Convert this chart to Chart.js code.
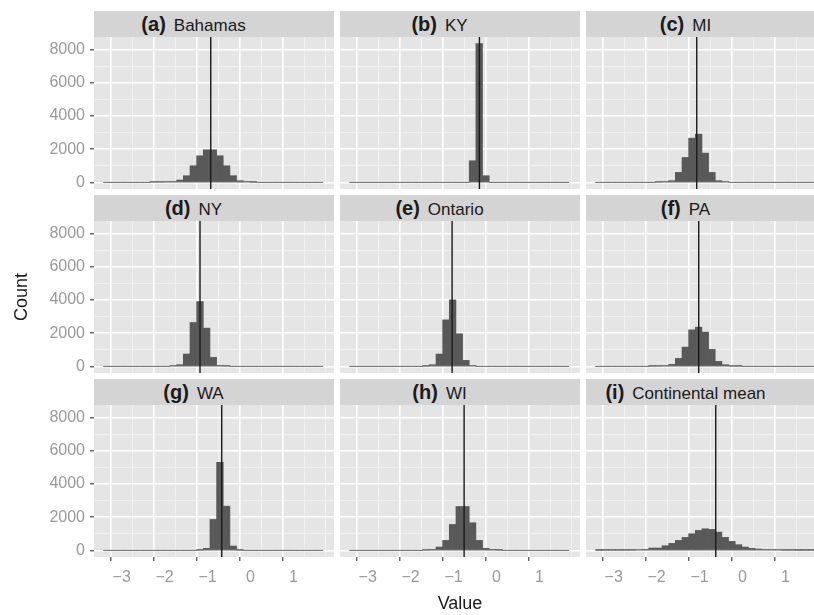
<!DOCTYPE html>
<html>
<head>
<meta charset="utf-8">
<script src="https://cdn.jsdelivr.net/npm/chart.js@4.4.1/dist/chart.umd.min.js"></script>
<style>
  html, body { margin: 0; padding: 0; background: #fff; overflow: hidden; }
  #fig { position: relative; width: 814px; height: 615px; overflow: hidden;
         font-family: "Liberation Sans", Arial, Helvetica, sans-serif; }
  .strip { position: absolute; height: 26px; line-height: 26px; background: #d4d4d4;
           color: #1a1a1a; font-size: 17px; text-align: center; white-space: nowrap;
           box-sizing: border-box; padding-right: 41px; }
  .strip b { font-size: 20px; margin-right: 8px; }
  .cell { position: absolute; }
</style>
</head>
<body>
<div id="fig"></div>
<script>
// 3x3 facet of histograms, ggplot look. same bins (~0.155 wide) in every panel

const binMids = [
  -3.346, -3.191, -3.036, -2.881, -2.726, -2.571, -2.416, -2.261, -2.106, -1.951, -1.796,
  -1.641, -1.486, -1.331, -1.176, -1.021, -0.866, -0.711, -0.556, -0.401, -0.246, -0.091,
  0.064, 0.219, 0.374, 0.529, 0.684, 0.839, 0.994, 1.149, 1.304, 1.459, 1.614,
];
const binLo = -3.423;
const binHi = 1.692;

const panelTags = ['(a)', '(b)', '(c)', '(d)', '(e)', '(f)', '(g)', '(h)', '(i)'];
const panelNames = ['Bahamas', 'KY', 'MI', 'NY', 'Ontario', 'PA', 'WA', 'WI', 'Continental mean'];
const meanLines = [-0.925, -0.396, -1.065, -1.175, -1.033, -1.019, -0.669, -0.753, -0.622];

const countsBahamas = [0, 0, 0, 0, 0, 0, 0, 30, 30, 40, 40, 140, 400, 1000, 1600, 1960, 1960, 1600, 1000, 400, 100, 40, 20, 0, 0, 0, 0, 0, 0, 0, 0, 0, 0];
const countsKY = [0, 0, 0, 0, 0, 0, 0, 0, 0, 0, 0, 0, 0, 0, 0, 0, 0, 0, 1300, 8360, 400, 0, 0, 0, 0, 0, 0, 0, 0, 0, 0, 0, 0];
const countsMI = [0, 0, 0, 0, 0, 0, 0, 0, 0, 30, 40, 100, 600, 1500, 2660, 2900, 1760, 600, 100, 50, 0, 0, 0, 0, 0, 0, 0, 0, 0, 0, 0, 0, 0];
const countsNY = [0, 0, 0, 0, 0, 0, 0, 0, 0, 0, 40, 100, 740, 2640, 3900, 2300, 540, 60, 30, 0, 0, 0, 0, 0, 0, 0, 0, 0, 0, 0, 0, 0, 0];
const countsOntario = [0, 0, 0, 0, 0, 0, 0, 0, 0, 0, 0, 20, 100, 740, 2800, 4000, 1960, 360, 40, 0, 0, 0, 0, 0, 0, 0, 0, 0, 0, 0, 0, 0, 0];
const countsPA = [0, 0, 0, 0, 0, 0, 0, 0, 20, 30, 40, 120, 480, 1160, 2200, 2360, 2060, 1020, 300, 100, 30, 20, 0, 0, 0, 0, 0, 0, 0, 0, 0, 0, 0];
const countsWA = [0, 0, 0, 0, 0, 0, 0, 0, 0, 0, 0, 0, 0, 0, 20, 120, 1860, 5300, 2660, 260, 20, 0, 0, 0, 0, 0, 0, 0, 0, 0, 0, 0, 0];
const countsWI = [0, 0, 0, 0, 0, 0, 0, 0, 0, 0, 0, 30, 60, 200, 600, 1560, 2640, 2640, 1660, 600, 120, 60, 20, 0, 0, 0, 0, 0, 0, 0, 0, 0, 0];
const countsContinental = [10, 15, 20, 20, 20, 25, 50, 60, 140, 140, 280, 420, 600, 780, 1000, 1200, 1300, 1260, 1100, 780, 540, 340, 200, 120, 80, 40, 40, 40, 20, 20, 10, 10, 10];

const panelCounts = [countsBahamas, countsKY, countsMI, countsNY, countsOntario, countsPA, countsWA, countsWI, countsContinental];

// major breaks get labels, minor ones only a thin grid line
const xTicks = [-3, -2, -1, 0, 1];
const xMinor = [-3.5, -2.5, -1.5, -0.5, 0.5, 1.5];
const yTicks = [0, 2000, 4000, 6000, 8000];
const yMinor = [1000, 3000, 5000, 7000];
const xRange = [-3.646, 1.948];
const yRange = [-400, 8750];

// layout (px) -- panels are 240x152, strips 26 high, gaps 6
const plotLeft = [94, 340, 586];
const stripTop = [11, 195, 379];
const PW = 240, PH = 152, SH = 26;
const AXIS_W = 94, AXIS_H = 58;

const FONT = "'Liberation Sans', Arial, Helvetica, sans-serif";
const fig = document.getElementById('fig');

const panelBg = {
  id: 'panelBg',
  beforeDraw(chart) {
    const { ctx, chartArea: a } = chart;
    ctx.save();
    ctx.fillStyle = '#e5e5e5';
    ctx.fillRect(a.left, a.top, a.right - a.left, a.bottom - a.top);
    ctx.restore();
  },
};

function fmtTick(v) {
  return v < 0 ? '\u2212' + Math.abs(v) : String(v);
}

// grid context has no tick when resolved for the scale itself
const isMajor = (list) => (c) => !!c.tick && list.includes(c.tick.value);

// fixed break list (stepSize snaps to min/max in v4, so set them by hand)
const setTicks = (major, minor) => (s) => {
  s.ticks = [...major, ...minor].sort((a, b) => a - b).map((value) => ({ value }));
};

function makePanel(i) {
  const row = Math.floor(i / 3);
  const col = i % 3;
  const isLeft = col === 0;
  const isBottom = row === 2;
  const xMajor = isMajor(xTicks);
  const yMajor = isMajor(yTicks);

  // strip
  const strip = document.createElement('div');
  strip.className = 'strip';
  strip.style.left = plotLeft[col] + 'px';
  strip.style.top = stripTop[row] + 'px';
  strip.style.width = PW + 'px';
  strip.innerHTML = `<b>${panelTags[i]}</b>${panelNames[i]}`;
  fig.appendChild(strip);

  // chart box, includes axis space for outer panels
  const box = document.createElement('div');
  box.className = 'cell';
  box.style.left = (isLeft ? 0 : plotLeft[col]) + 'px';
  box.style.top = (stripTop[row] + SH) + 'px';
  box.style.width = (isLeft ? AXIS_W + PW : PW) + 'px';
  box.style.height = (isBottom ? PH + AXIS_H : PH) + 'px';
  const canvas = document.createElement('canvas');
  box.appendChild(canvas);
  fig.appendChild(box);

  const counts = panelCounts[i];

  new Chart(canvas, {
    type: 'bar',
    data: {
      datasets: [
        {
          type: 'line',
          data: [{ x: meanLines[i], y: yRange[0] }, { x: meanLines[i], y: yRange[1] }],
          borderColor: '#1a1a1a',
          borderWidth: 1.4,
          pointRadius: 0,
          order: 0,
        },
        {
          type: 'bar',
          data: binMids.map((x, k) => ({ x, y: counts[k] })),
          backgroundColor: '#595959',
          borderWidth: 0,
          barPercentage: 1,
          categoryPercentage: 1,
          order: 1,
        },
        {
          // empty bins show as a thin line along zero
          type: 'line',
          data: [{ x: binLo, y: 0 }, { x: binHi, y: 0 }],
          borderColor: '#a8a8a8',
          borderWidth: 1,
          pointRadius: 0,
          order: 2,
        },
      ],
    },
    options: {
      responsive: true,
      maintainAspectRatio: false,
      animation: false,
      events: [],
      layout: { padding: 0 },
      plugins: { legend: { display: false }, tooltip: { enabled: false } },
      scales: {
        x: {
          type: 'linear',
          min: xRange[0],
          max: xRange[1],
          offset: false,
          border: { display: false },
          afterBuildTicks: setTicks(xTicks, xMinor),
          grid: {
            color: (c) => (xMajor(c) ? '#ffffff' : '#f2f2f2'),
            lineWidth: (c) => (xMajor(c) ? 1.6 : 0.8),
            drawTicks: isBottom,
            tickLength: 4,
            tickWidth: 1.1,
            tickColor: (c) => (xMajor(c) ? '#333333' : 'rgba(0,0,0,0)'),
          },
          ticks: {
            display: isBottom,
            autoSkip: false,
            maxRotation: 0,
            padding: 7,
            color: '#999999',
            font: { family: FONT, size: 16 },
            callback: (v) => (xTicks.includes(v) ? fmtTick(v) : ''),
          },
          title: {
            display: isBottom && col === 1,
            text: 'Value',
            color: '#1a1a1a',
            font: { family: FONT, size: 18 },
            padding: { top: 0, bottom: 0 },
          },
          afterFit: (s) => {
            s.height = isBottom ? AXIS_H : 0;
            s.paddingLeft = s.paddingRight = s.paddingTop = s.paddingBottom = 0;
          },
        },
        y: {
          type: 'linear',
          min: yRange[0],
          max: yRange[1],
          border: { display: false },
          afterBuildTicks: setTicks(yTicks, yMinor),
          grid: {
            color: (c) => (yMajor(c) ? '#ffffff' : '#f2f2f2'),
            lineWidth: (c) => (yMajor(c) ? 1.6 : 0.8),
            drawTicks: isLeft,
            tickLength: 4,
            tickWidth: 1.1,
            tickColor: (c) => (yMajor(c) ? '#333333' : 'rgba(0,0,0,0)'),
          },
          ticks: {
            display: isLeft,
            autoSkip: false,
            padding: 5,
            color: '#999999',
            font: { family: FONT, size: 16 },
            callback: (v) => (yTicks.includes(v) ? String(v) : ''),
          },
          title: {
            display: isLeft && row === 1,
            text: 'Count',
            color: '#1a1a1a',
            font: { family: FONT, size: 18 },
            padding: { top: 11, bottom: 0 },
          },
          afterFit: (s) => {
            s.width = isLeft ? AXIS_W : 0;
            s.paddingLeft = s.paddingRight = s.paddingTop = s.paddingBottom = 0;
          },
        },
      },
    },
    plugins: [panelBg],
  });
}

for (let i = 0; i < 9; i++) makePanel(i);
</script>
</body>
</html>
